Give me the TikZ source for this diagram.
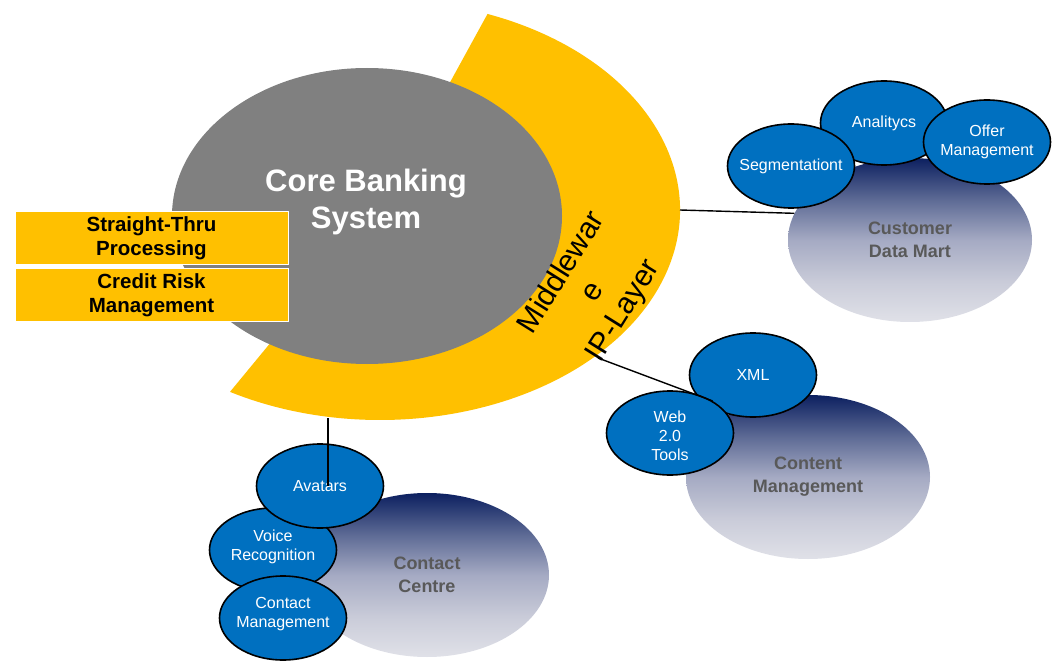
\documentclass[tikz,border=0pt]{standalone}
\usepackage{fontspec}
\setmainfont{Liberation Sans}
\usetikzlibrary{shapes.geometric}

\definecolor{ringyellow}{RGB}{255,192,0}
\definecolor{coregray}{RGB}{128,128,128}
\definecolor{bubbleblue}{RGB}{0,112,192}
\definecolor{blobtext}{RGB}{89,89,89}
\definecolor{blobtop}{RGB}{12,32,96}
\definecolor{blobhigh}{RGB}{95,108,150}
\definecolor{blobmid}{RGB}{165,170,195}
\definecolor{bloblow}{RGB}{202,204,217}
\definecolor{blobbot}{RGB}{224,225,232}

\pgfdeclareverticalshading{blobfade}{100bp}{color(0bp)=(blobbot); color(25bp)=(blobbot);
  color(37bp)=(bloblow); color(50bp)=(blobmid); color(62bp)=(blobhigh);
  color(75bp)=(blobtop); color(100bp)=(blobtop)}

\begin{document}
\begin{tikzpicture}[x=1pt, y=-1pt,
    bubble/.style = {ellipse, draw=black, line width=1.6pt, fill=bubbleblue,
      minimum width=127pt, minimum height=84pt, inner sep=0pt},
    bubbletext/.style = {text=white, align=center, font=\fontsize{16}{19}\selectfont},
    blob/.style = {ellipse, shade, shading=blobfade, minimum width=244pt,
      minimum height=164pt, align=center, text=blobtext,
      font=\fontsize{18}{23}\selectfont\bfseries},
    infobox/.style = {rectangle, fill=ringyellow, draw=white, line width=1pt,
      minimum width=273pt, minimum height=53pt, align=center,
      font=\fontsize{20.5}{24}\selectfont\bfseries},
    link/.style = {draw=black, line width=1.4pt}]
  \useasboundingbox (0,0) rectangle (1058,663);

  % middleware ring, cut open on the left
  \fill[ringyellow] (380,210) -- ++(-69:300 and 210)
    arc[start angle=-69, end angle=120, x radius=300, y radius=210] -- cycle;
  \coordinate (ringE) at (680,210); % right edge
  \coordinate (ringSE) at (598,358); % below IP-Layer
  \coordinate (ringS) at (328,418); % bottom

  \node[ellipse, fill=coregray, minimum width=390pt, minimum height=296pt] (core) at (367,216) {};
  \node[text=white, align=center, font=\fontsize{31}{37}\selectfont\bfseries] (coretxt) at (366,202) {Core Banking\\System};

  \node[infobox] (stp) at (151.5,238.5) {Straight-Thru\\Processing} % upper box
  node[infobox] (crm) at (151.5,295) {Credit Risk\\Management}; % lower box

  \node[rotate=58, align=center, font=\fontsize{30}{36}\selectfont] (mwtxt) at (593,292) {Middlewar\\e\\IP-Layer};

  \node[blob] (cdm) at (910,240) {Customer\\Data Mart} % right
  node[blob] (cms) at (808,477) {Content\\Management} % right, bottom
  node[blob] (ccc) at (427,575) {Contact\\Centre}; % bottom

  \node[bubble] (ana) at (884,123) {} % customer data mart, top
  node[bubble] (seg) at (791,166) {} % customer data mart, left
  node[bubble] (offer) at (987,142) {} % customer data mart, right
  node[bubble] (xml) at (753,375) {} % content, top
  node[bubble] (web) at (670,433) {} % content, left
  node[bubble] (voice) at (273,550) {} % contact centre, middle
  node[bubble] (avatar) at (320,486) {} % contact centre, top
  node[bubble] (contact) at (283,618) {}; % contact centre, bottom

  \node[bubbletext] (anatxt) at (ana) {Analitycs};
  \node[bubbletext] (segtxt) at (seg) {Segmentationt};
  \node[bubbletext] (offertxt) at (offer) {Offer\\Management};
  \node[bubbletext] (xmltxt) at (xml) {XML};
  \node[bubbletext] (webtxt) at (670,436) {Web\\2.0\\Tools};
  \node[bubbletext] (voicetxt) at (273,547) {Voice\\Recognition};
  \node[bubbletext] (avatartxt) at (avatar) {Avatars};
  \node[bubbletext] (contacttxt) at (283,614) {Contact\\Management};

  \draw[link] (ringE) -- (cdm.167);
  \draw[link] (ringSE) -- (web.37);
  \draw[link] (ringS) -- (ringS |- avatar.center);
\end{tikzpicture}
\end{document}
